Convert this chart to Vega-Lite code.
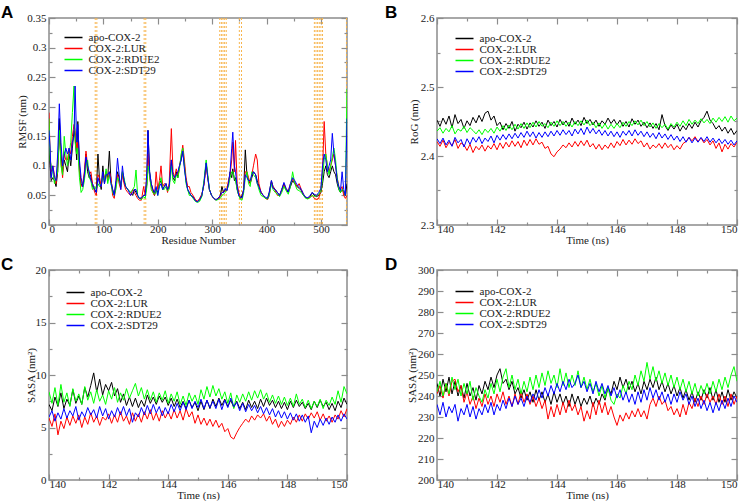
{
"$schema":"https://vega.github.io/schema/vega-lite/v6.json",
"background":"white",
"padding":{"left":0,"top":3,"right":2,"bottom":0},
"datasets":{
"rA":[{"r":85},{"r":88},{"r":175},{"r":178},{"r":314},{"r":317},{"r":320},{"r":323},{"r":326},{"r":350},{"r":354},{"r":488},{"r":491},{"r":494},{"r":497},{"r":500},{"r":503},{"r":547}],
"A":[
{"x":0,"a":0.13,"l":0.19,"r":0.18,"s":0.16},{"x":2,"a":0.10,"l":0.12,"r":0.11,"s":0.13},{"x":4,"a":0.075,"l":0.09,"r":0.10,"s":0.08},{"x":7,"a":0.08,"l":0.10,"r":0.09,"s":0.10},{"x":10,"a":0.075,"l":0.085,"r":0.07,"s":0.08},{"x":13,"a":0.065,"l":0.07,"r":0.08,"s":0.075},{"x":16,"a":0.09,"l":0.10,"r":0.09,"s":0.12},{"x":19,"a":0.18,"l":0.15,"r":0.16,"s":0.205},{"x":22,"a":0.12,"l":0.11,"r":0.10,"s":0.14},{"x":25,"a":0.09,"l":0.08,"r":0.085,"s":0.1},{"x":28,"a":0.11,"l":0.12,"r":0.15,"s":0.12},{"x":31,"a":0.10,"l":0.11,"r":0.12,"s":0.13},{"x":34,"a":0.09,"l":0.11,"r":0.10,"s":0.12},{"x":37,"a":0.12,"l":0.13,"r":0.12,"s":0.13},{"x":40,"a":0.10,"l":0.12,"r":0.14,"s":0.11},{"x":43,"a":0.13,"l":0.15,"r":0.19,"s":0.14},{"x":46,"a":0.16,"l":0.17,"r":0.235,"s":0.15},{"x":48,"a":0.15,"l":0.16,"r":0.14,"s":0.235},{"x":51,"a":0.11,"l":0.13,"r":0.12,"s":0.14},{"x":53,"a":0.175,"l":0.14,"r":0.13,"s":0.17},{"x":56,"a":0.10,"l":0.09,"r":0.08,"s":0.11},{"x":59,"a":0.07,"l":0.065,"r":0.055,"s":0.08},{"x":62,"a":0.065,"l":0.07,"r":0.06,"s":0.065},{"x":65,"a":0.08,"l":0.09,"r":0.075,"s":0.085},{"x":68,"a":0.12,"l":0.125,"r":0.10,"s":0.115},{"x":71,"a":0.09,"l":0.10,"r":0.11,"s":0.10},{"x":74,"a":0.08,"l":0.085,"r":0.08,"s":0.09},{"x":77,"a":0.085,"l":0.09,"r":0.075,"s":0.075},{"x":80,"a":0.065,"l":0.07,"r":0.06,"s":0.07},{"x":84,"a":0.06,"l":0.055,"r":0.065,"s":0.06},{"x":87,"a":0.055,"l":0.05,"r":0.06,"s":0.055},{"x":90,"a":0.12,"l":0.085,"r":0.07,"s":0.08},{"x":93,"a":0.075,"l":0.08,"r":0.065,"s":0.07},{"x":96,"a":0.06,"l":0.065,"r":0.07,"s":0.065},{"x":99,"a":0.10,"l":0.085,"r":0.08,"s":0.09},{"x":102,"a":0.07,"l":0.08,"r":0.075,"s":0.07},{"x":105,"a":0.09,"l":0.09,"r":0.095,"s":0.085},{"x":108,"a":0.08,"l":0.075,"r":0.07,"s":0.085},{"x":111,"a":0.125,"l":0.09,"r":0.085,"s":0.09},{"x":114,"a":0.075,"l":0.08,"r":0.07,"s":0.07},{"x":117,"a":0.06,"l":0.05,"r":0.055,"s":0.06},{"x":120,"a":0.05,"l":0.045,"r":0.05,"s":0.05},{"x":123,"a":0.07,"l":0.065,"r":0.06,"s":0.075},{"x":126,"a":0.09,"l":0.085,"r":0.08,"s":0.113},{"x":129,"a":0.08,"l":0.07,"r":0.075,"s":0.085},{"x":132,"a":0.065,"l":0.06,"r":0.065,"s":0.06},{"x":135,"a":0.09,"l":0.085,"r":0.09,"s":0.10},{"x":138,"a":0.075,"l":0.07,"r":0.08,"s":0.075},{"x":141,"a":0.065,"l":0.06,"r":0.065,"s":0.065},{"x":145,"a":0.06,"l":0.055,"r":0.06,"s":0.06},{"x":150,"a":0.055,"l":0.05,"r":0.055,"s":0.05},{"x":154,"a":0.05,"l":0.06,"r":0.06,"s":0.055},{"x":157,"a":0.06,"l":0.055,"r":0.065,"s":0.06},{"x":160,"a":0.055,"l":0.05,"r":0.093,"s":0.06},{"x":163,"a":0.05,"l":0.045,"r":0.05,"s":0.05},{"x":166,"a":0.045,"l":0.042,"r":0.045,"s":0.045},{"x":170,"a":0.045,"l":0.042,"r":0.043,"s":0.046},{"x":174,"a":0.05,"l":0.065,"r":0.048,"s":0.05},{"x":177,"a":0.05,"l":0.05,"r":0.045,"s":0.05},{"x":180,"a":0.07,"l":0.08,"r":0.065,"s":0.09},{"x":182,"a":0.16,"l":0.12,"r":0.10,"s":0.16},{"x":185,"a":0.09,"l":0.08,"r":0.085,"s":0.09},{"x":188,"a":0.07,"l":0.065,"r":0.06,"s":0.07},{"x":191,"a":0.06,"l":0.055,"r":0.055,"s":0.06},{"x":194,"a":0.05,"l":0.05,"r":0.052,"s":0.055},{"x":197,"a":0.06,"l":0.09,"r":0.06,"s":0.065},{"x":200,"a":0.055,"l":0.06,"r":0.05,"s":0.05},{"x":203,"a":0.07,"l":0.075,"r":0.07,"s":0.065},{"x":206,"a":0.075,"l":0.10,"r":0.08,"s":0.07},{"x":209,"a":0.06,"l":0.065,"r":0.06,"s":0.06},{"x":212,"a":0.065,"l":0.07,"r":0.06,"s":0.065},{"x":215,"a":0.07,"l":0.068,"r":0.065,"s":0.07},{"x":218,"a":0.06,"l":0.055,"r":0.058,"s":0.06},{"x":221,"a":0.065,"l":0.07,"r":0.06,"s":0.065},{"x":225,"a":0.11,"l":0.163,"r":0.10,"s":0.11},{"x":228,"a":0.08,"l":0.09,"r":0.075,"s":0.085},{"x":231,"a":0.075,"l":0.08,"r":0.07,"s":0.08},{"x":234,"a":0.09,"l":0.095,"r":0.085,"s":0.085},{"x":237,"a":0.08,"l":0.085,"r":0.08,"s":0.09},{"x":240,"a":0.1,"l":0.10,"r":0.095,"s":0.1},{"x":243,"a":0.11,"l":0.115,"r":0.12,"s":0.11},{"x":246,"a":0.125,"l":0.135,"r":0.13,"s":0.125},{"x":249,"a":0.10,"l":0.11,"r":0.10,"s":0.095},{"x":252,"a":0.075,"l":0.08,"r":0.07,"s":0.075},{"x":255,"a":0.06,"l":0.065,"r":0.06,"s":0.06},{"x":258,"a":0.055,"l":0.065,"r":0.05,"s":0.055},{"x":261,"a":0.05,"l":0.055,"r":0.05,"s":0.05},{"x":265,"a":0.048,"l":0.05,"r":0.045,"s":0.047},{"x":269,"a":0.042,"l":0.043,"r":0.04,"s":0.041},{"x":273,"a":0.04,"l":0.04,"r":0.038,"s":0.039},{"x":277,"a":0.042,"l":0.045,"r":0.04,"s":0.043},{"x":281,"a":0.05,"l":0.052,"r":0.048,"s":0.05},{"x":285,"a":0.07,"l":0.068,"r":0.075,"s":0.07},{"x":289,"a":0.105,"l":0.1,"r":0.11,"s":0.105},{"x":292,"a":0.08,"l":0.08,"r":0.085,"s":0.08},{"x":295,"a":0.06,"l":0.06,"r":0.06,"s":0.06},{"x":299,"a":0.05,"l":0.05,"r":0.05,"s":0.05},{"x":303,"a":0.045,"l":0.045,"r":0.046,"s":0.045},{"x":307,"a":0.042,"l":0.043,"r":0.042,"s":0.043},{"x":311,"a":0.045,"l":0.044,"r":0.043,"s":0.045},{"x":315,"a":0.05,"l":0.048,"r":0.045,"s":0.05},{"x":318,"a":0.065,"l":0.055,"r":0.05,"s":0.055},{"x":321,"a":0.055,"l":0.055,"r":0.052,"s":0.055},{"x":324,"a":0.06,"l":0.058,"r":0.055,"s":0.062},{"x":327,"a":0.058,"l":0.06,"r":0.06,"s":0.058},{"x":330,"a":0.07,"l":0.075,"r":0.065,"s":0.07},{"x":333,"a":0.09,"l":0.085,"r":0.08,"s":0.09},{"x":336,"a":0.08,"l":0.11,"r":0.09,"s":0.13},{"x":338,"a":0.095,"l":0.14,"r":0.09,"s":0.157},{"x":341,"a":0.075,"l":0.09,"r":0.08,"s":0.1},{"x":343,"a":0.08,"l":0.143,"r":0.075,"s":0.09},{"x":346,"a":0.06,"l":0.07,"r":0.06,"s":0.065},{"x":349,"a":0.05,"l":0.055,"r":0.05,"s":0.05},{"x":352,"a":0.045,"l":0.048,"r":0.043,"s":0.047},{"x":355,"a":0.05,"l":0.045,"r":0.042,"s":0.046},{"x":358,"a":0.06,"l":0.06,"r":0.055,"s":0.06},{"x":361,"a":0.127,"l":0.09,"r":0.08,"s":0.085},{"x":364,"a":0.085,"l":0.09,"r":0.09,"s":0.08},{"x":367,"a":0.075,"l":0.08,"r":0.07,"s":0.075},{"x":370,"a":0.07,"l":0.07,"r":0.065,"s":0.075},{"x":373,"a":0.08,"l":0.085,"r":0.09,"s":0.085},{"x":376,"a":0.09,"l":0.10,"r":0.085,"s":0.09},{"x":380,"a":0.085,"l":0.12,"r":0.08,"s":0.085},{"x":383,"a":0.075,"l":0.11,"r":0.07,"s":0.07},{"x":386,"a":0.065,"l":0.07,"r":0.06,"s":0.065},{"x":390,"a":0.055,"l":0.055,"r":0.05,"s":0.055},{"x":394,"a":0.05,"l":0.05,"r":0.048,"s":0.05},{"x":398,"a":0.045,"l":0.045,"r":0.045,"s":0.047},{"x":402,"a":0.045,"l":0.043,"r":0.044,"s":0.045},{"x":405,"a":0.055,"l":0.05,"r":0.05,"s":0.055},{"x":409,"a":0.075,"l":0.072,"r":0.07,"s":0.075},{"x":412,"a":0.065,"l":0.065,"r":0.06,"s":0.062},{"x":416,"a":0.06,"l":0.058,"r":0.055,"s":0.06},{"x":420,"a":0.055,"l":0.05,"r":0.052,"s":0.055},{"x":424,"a":0.05,"l":0.05,"r":0.048,"s":0.05},{"x":428,"a":0.06,"l":0.058,"r":0.055,"s":0.06},{"x":432,"a":0.07,"l":0.068,"r":0.065,"s":0.072},{"x":436,"a":0.06,"l":0.06,"r":0.058,"s":0.062},{"x":440,"a":0.055,"l":0.058,"r":0.052,"s":0.056},{"x":444,"a":0.065,"l":0.07,"r":0.065,"s":0.07},{"x":448,"a":0.075,"l":0.078,"r":0.09,"s":0.08},{"x":452,"a":0.07,"l":0.072,"r":0.07,"s":0.075},{"x":456,"a":0.065,"l":0.065,"r":0.06,"s":0.068},{"x":460,"a":0.062,"l":0.07,"r":0.058,"s":0.065},{"x":464,"a":0.058,"l":0.06,"r":0.055,"s":0.06},{"x":468,"a":0.05,"l":0.052,"r":0.05,"s":0.052},{"x":472,"a":0.046,"l":0.047,"r":0.045,"s":0.047},{"x":476,"a":0.045,"l":0.045,"r":0.044,"s":0.046},{"x":480,"a":0.048,"l":0.047,"r":0.046,"s":0.05},{"x":484,"a":0.055,"l":0.05,"r":0.05,"s":0.055},{"x":488,"a":0.05,"l":0.045,"r":0.048,"s":0.052},{"x":492,"a":0.048,"l":0.043,"r":0.05,"s":0.05},{"x":496,"a":0.05,"l":0.045,"r":0.052,"s":0.055},{"x":500,"a":0.055,"l":0.06,"r":0.058,"s":0.062},{"x":503,"a":0.07,"l":0.09,"r":0.08,"s":0.1},{"x":506,"a":0.09,"l":0.175,"r":0.11,"s":0.12},{"x":509,"a":0.1,"l":0.12,"r":0.12,"s":0.11},{"x":512,"a":0.085,"l":0.1,"r":0.1,"s":0.09},{"x":515,"a":0.08,"l":0.09,"r":0.085,"s":0.1},{"x":518,"a":0.09,"l":0.1,"r":0.1,"s":0.11},{"x":521,"a":0.1,"l":0.11,"r":0.115,"s":0.155},{"x":524,"a":0.09,"l":0.12,"r":0.13,"s":0.12},{"x":527,"a":0.085,"l":0.1,"r":0.11,"s":0.1},{"x":530,"a":0.07,"l":0.08,"r":0.08,"s":0.075},{"x":533,"a":0.06,"l":0.065,"r":0.06,"s":0.065},{"x":536,"a":0.055,"l":0.06,"r":0.055,"s":0.058},{"x":539,"a":0.06,"l":0.065,"r":0.06,"s":0.09},{"x":542,"a":0.055,"l":0.05,"r":0.058,"s":0.06},{"x":545,"a":0.05,"l":0.045,"r":0.05,"s":0.05},{"x":548,"a":0.07,"l":0.05,"r":0.23,"s":0.18}
],
"B":[
{"t":140.0,"a":2.452,"l":2.421,"r":2.436,"s":2.425},{"t":140.1,"a":2.443,"l":2.414,"r":2.441,"s":2.418},{"t":140.2,"a":2.455,"l":2.423,"r":2.433,"s":2.426},{"t":140.3,"a":2.446,"l":2.412,"r":2.440,"s":2.416},{"t":140.4,"a":2.458,"l":2.420,"r":2.435,"s":2.423},{"t":140.5,"a":2.441,"l":2.415,"r":2.444,"s":2.414},{"t":140.6,"a":2.460,"l":2.424,"r":2.432,"s":2.427},{"t":140.7,"a":2.447,"l":2.411,"r":2.439,"s":2.419},{"t":140.8,"a":2.453,"l":2.419,"r":2.436,"s":2.424},{"t":140.9,"a":2.440,"l":2.416,"r":2.443,"s":2.413},
{"t":141.0,"a":2.451,"l":2.408,"r":2.434,"s":2.425},{"t":141.1,"a":2.444,"l":2.417,"r":2.441,"s":2.417},{"t":141.2,"a":2.456,"l":2.405,"r":2.437,"s":2.427},{"t":141.3,"a":2.448,"l":2.414,"r":2.432,"s":2.420},{"t":141.4,"a":2.459,"l":2.409,"r":2.438,"s":2.428},{"t":141.5,"a":2.450,"l":2.416,"r":2.431,"s":2.418},{"t":141.6,"a":2.462,"l":2.407,"r":2.439,"s":2.426},{"t":141.7,"a":2.465,"l":2.415,"r":2.434,"s":2.421},{"t":141.8,"a":2.452,"l":2.410,"r":2.440,"s":2.429},{"t":141.9,"a":2.458,"l":2.418,"r":2.433,"s":2.419},
{"t":142.0,"a":2.444,"l":2.409,"r":2.442,"s":2.430},{"t":142.1,"a":2.449,"l":2.419,"r":2.436,"s":2.423},{"t":142.2,"a":2.438,"l":2.411,"r":2.444,"s":2.431},{"t":142.3,"a":2.447,"l":2.420,"r":2.437,"s":2.424},{"t":142.4,"a":2.440,"l":2.413,"r":2.445,"s":2.432},{"t":142.5,"a":2.450,"l":2.422,"r":2.438,"s":2.425},{"t":142.6,"a":2.436,"l":2.414,"r":2.446,"s":2.433},{"t":142.7,"a":2.446,"l":2.421,"r":2.439,"s":2.426},{"t":142.8,"a":2.441,"l":2.412,"r":2.447,"s":2.434},{"t":142.9,"a":2.449,"l":2.423,"r":2.440,"s":2.427},
{"t":143.0,"a":2.439,"l":2.415,"r":2.448,"s":2.436},{"t":143.1,"a":2.448,"l":2.424,"r":2.441,"s":2.428},{"t":143.2,"a":2.442,"l":2.416,"r":2.449,"s":2.435},{"t":143.3,"a":2.451,"l":2.425,"r":2.442,"s":2.426},{"t":143.4,"a":2.443,"l":2.417,"r":2.450,"s":2.434},{"t":143.5,"a":2.449,"l":2.420,"r":2.443,"s":2.427},{"t":143.6,"a":2.440,"l":2.411,"r":2.447,"s":2.435},{"t":143.7,"a":2.452,"l":2.414,"r":2.441,"s":2.428},{"t":143.8,"a":2.444,"l":2.403,"r":2.449,"s":2.436},{"t":143.9,"a":2.450,"l":2.399,"r":2.443,"s":2.429},
{"t":144.0,"a":2.442,"l":2.406,"r":2.451,"s":2.437},{"t":144.1,"a":2.453,"l":2.410,"r":2.444,"s":2.430},{"t":144.2,"a":2.445,"l":2.416,"r":2.450,"s":2.438},{"t":144.3,"a":2.451,"l":2.412,"r":2.443,"s":2.431},{"t":144.4,"a":2.443,"l":2.419,"r":2.449,"s":2.437},{"t":144.5,"a":2.455,"l":2.413,"r":2.442,"s":2.429},{"t":144.6,"a":2.446,"l":2.421,"r":2.450,"s":2.439},{"t":144.7,"a":2.452,"l":2.414,"r":2.444,"s":2.432},{"t":144.8,"a":2.444,"l":2.422,"r":2.451,"s":2.440},{"t":144.9,"a":2.456,"l":2.415,"r":2.445,"s":2.431},
{"t":145.0,"a":2.447,"l":2.423,"r":2.452,"s":2.442},{"t":145.1,"a":2.453,"l":2.413,"r":2.444,"s":2.433},{"t":145.2,"a":2.445,"l":2.418,"r":2.449,"s":2.440},{"t":145.3,"a":2.452,"l":2.410,"r":2.441,"s":2.432},{"t":145.4,"a":2.443,"l":2.417,"r":2.448,"s":2.438},{"t":145.5,"a":2.451,"l":2.409,"r":2.440,"s":2.430},{"t":145.6,"a":2.446,"l":2.416,"r":2.447,"s":2.437},{"t":145.7,"a":2.455,"l":2.411,"r":2.439,"s":2.429},{"t":145.8,"a":2.447,"l":2.419,"r":2.446,"s":2.436},{"t":145.9,"a":2.453,"l":2.412,"r":2.440,"s":2.428},
{"t":146.0,"a":2.445,"l":2.421,"r":2.447,"s":2.435},{"t":146.1,"a":2.452,"l":2.415,"r":2.441,"s":2.427},{"t":146.2,"a":2.443,"l":2.424,"r":2.449,"s":2.436},{"t":146.3,"a":2.450,"l":2.416,"r":2.443,"s":2.430},{"t":146.4,"a":2.442,"l":2.423,"r":2.450,"s":2.437},{"t":146.5,"a":2.454,"l":2.417,"r":2.444,"s":2.429},{"t":146.6,"a":2.446,"l":2.425,"r":2.451,"s":2.438},{"t":146.7,"a":2.452,"l":2.418,"r":2.445,"s":2.430},{"t":146.8,"a":2.443,"l":2.422,"r":2.452,"s":2.436},{"t":146.9,"a":2.449,"l":2.413,"r":2.444,"s":2.428},
{"t":147.0,"a":2.441,"l":2.419,"r":2.450,"s":2.435},{"t":147.1,"a":2.448,"l":2.410,"r":2.442,"s":2.427},{"t":147.2,"a":2.440,"l":2.416,"r":2.448,"s":2.433},{"t":147.3,"a":2.447,"l":2.412,"r":2.440,"s":2.425},{"t":147.4,"a":2.438,"l":2.418,"r":2.447,"s":2.434},{"t":147.5,"a":2.460,"l":2.411,"r":2.441,"s":2.426},{"t":147.6,"a":2.444,"l":2.419,"r":2.446,"s":2.432},{"t":147.7,"a":2.437,"l":2.412,"r":2.439,"s":2.424},{"t":147.8,"a":2.445,"l":2.417,"r":2.447,"s":2.431},{"t":147.9,"a":2.439,"l":2.409,"r":2.442,"s":2.423},
{"t":148.0,"a":2.446,"l":2.415,"r":2.449,"s":2.429},{"t":148.1,"a":2.436,"l":2.410,"r":2.443,"s":2.421},{"t":148.2,"a":2.444,"l":2.418,"r":2.451,"s":2.428},{"t":148.3,"a":2.438,"l":2.421,"r":2.444,"s":2.420},{"t":148.4,"a":2.447,"l":2.427,"r":2.453,"s":2.427},{"t":148.5,"a":2.440,"l":2.422,"r":2.446,"s":2.419},{"t":148.6,"a":2.449,"l":2.428,"r":2.452,"s":2.426},{"t":148.7,"a":2.442,"l":2.421,"r":2.447,"s":2.420},{"t":148.8,"a":2.451,"l":2.426,"r":2.454,"s":2.427},{"t":148.9,"a":2.456,"l":2.419,"r":2.448,"s":2.421},
{"t":149.0,"a":2.465,"l":2.424,"r":2.453,"s":2.428},{"t":149.1,"a":2.452,"l":2.416,"r":2.447,"s":2.420},{"t":149.2,"a":2.447,"l":2.422,"r":2.455,"s":2.426},{"t":149.3,"a":2.439,"l":2.411,"r":2.449,"s":2.419},{"t":149.4,"a":2.444,"l":2.419,"r":2.456,"s":2.425},{"t":149.5,"a":2.436,"l":2.406,"r":2.450,"s":2.418},{"t":149.6,"a":2.442,"l":2.417,"r":2.457,"s":2.424},{"t":149.7,"a":2.433,"l":2.410,"r":2.449,"s":2.417},{"t":149.8,"a":2.440,"l":2.418,"r":2.458,"s":2.423},{"t":149.9,"a":2.431,"l":2.413,"r":2.451,"s":2.416},{"t":150.0,"a":2.437,"l":2.420,"r":2.455,"s":2.422}
],
"C":[
{"t":140.0,"a":7.2,"l":5.9,"r":8.4,"s":6.0},{"t":140.1,"a":6.6,"l":5.1,"r":7.3,"s":6.6},{"t":140.2,"a":7.9,"l":6.3,"r":8.8,"s":5.6},{"t":140.3,"a":7.0,"l":4.3,"r":7.1,"s":6.4},{"t":140.4,"a":8.3,"l":5.6,"r":9.1,"s":5.8},{"t":140.5,"a":6.8,"l":4.9,"r":7.4,"s":6.8},{"t":140.6,"a":7.7,"l":6.0,"r":8.3,"s":5.9},{"t":140.7,"a":7.1,"l":5.2,"r":7.0,"s":6.6},{"t":140.8,"a":8.6,"l":6.1,"r":8.7,"s":6.1},{"t":140.9,"a":7.3,"l":5.4,"r":7.5,"s":7.0},
{"t":141.0,"a":8.0,"l":6.2,"r":8.2,"s":5.7},{"t":141.1,"a":7.2,"l":5.0,"r":7.2,"s":6.5},{"t":141.2,"a":8.8,"l":6.0,"r":8.9,"s":6.0},{"t":141.3,"a":7.9,"l":5.3,"r":7.6,"s":6.9},{"t":141.4,"a":9.0,"l":6.4,"r":8.4,"s":6.2},{"t":141.5,"a":10.2,"l":5.5,"r":7.3,"s":6.7},{"t":141.6,"a":8.4,"l":6.1,"r":8.6,"s":5.9},{"t":141.7,"a":9.6,"l":5.2,"r":7.5,"s":7.0},{"t":141.8,"a":8.1,"l":6.0,"r":8.1,"s":6.1},{"t":141.9,"a":9.1,"l":5.7,"r":7.2,"s":6.8},
{"t":142.0,"a":8.5,"l":6.3,"r":8.5,"s":5.8},{"t":142.1,"a":9.3,"l":5.4,"r":7.7,"s":6.6},{"t":142.2,"a":8.0,"l":6.2,"r":8.8,"s":6.0},{"t":142.3,"a":8.7,"l":5.5,"r":7.4,"s":6.9},{"t":142.4,"a":7.4,"l":6.5,"r":8.3,"s":6.2},{"t":142.5,"a":8.2,"l":5.6,"r":7.6,"s":7.0},{"t":142.6,"a":7.1,"l":6.1,"r":8.7,"s":6.1},{"t":142.7,"a":7.9,"l":5.3,"r":7.8,"s":6.8},{"t":142.8,"a":7.0,"l":6.4,"r":8.5,"s":5.5},{"t":142.9,"a":7.8,"l":5.6,"r":9.2,"s":6.4},
{"t":143.0,"a":6.9,"l":6.3,"r":8.0,"s":6.0},{"t":143.1,"a":7.6,"l":5.5,"r":8.8,"s":6.9},{"t":143.2,"a":7.0,"l":6.5,"r":7.7,"s":6.2},{"t":143.3,"a":8.1,"l":5.8,"r":8.6,"s":7.1},{"t":143.4,"a":7.3,"l":6.7,"r":7.6,"s":6.3},{"t":143.5,"a":7.9,"l":5.7,"r":8.4,"s":7.2},{"t":143.6,"a":7.2,"l":6.4,"r":7.4,"s":6.4},{"t":143.7,"a":8.0,"l":5.6,"r":8.3,"s":7.0},{"t":143.8,"a":7.4,"l":6.6,"r":7.6,"s":6.1},{"t":143.9,"a":7.9,"l":5.9,"r":8.5,"s":6.9},
{"t":144.0,"a":7.1,"l":6.5,"r":7.3,"s":6.3},{"t":144.1,"a":7.8,"l":5.8,"r":8.2,"s":7.2},{"t":144.2,"a":7.0,"l":6.7,"r":7.5,"s":6.5},{"t":144.3,"a":7.7,"l":5.9,"r":8.4,"s":7.3},{"t":144.4,"a":6.9,"l":6.6,"r":7.2,"s":6.6},{"t":144.5,"a":7.5,"l":5.7,"r":8.0,"s":7.4},{"t":144.6,"a":6.8,"l":6.8,"r":7.1,"s":6.7},{"t":144.7,"a":7.6,"l":6.0,"r":8.3,"s":7.6},{"t":144.8,"a":6.9,"l":6.5,"r":7.5,"s":6.8},{"t":144.9,"a":7.4,"l":5.4,"r":8.1,"s":7.5},
{"t":145.0,"a":6.6,"l":6.2,"r":7.2,"s":6.9},{"t":145.1,"a":7.5,"l":5.3,"r":8.6,"s":7.7},{"t":145.2,"a":6.7,"l":5.9,"r":7.7,"s":6.8},{"t":145.3,"a":7.6,"l":5.2,"r":8.9,"s":7.6},{"t":145.4,"a":6.8,"l":5.8,"r":7.9,"s":6.9},{"t":145.5,"a":7.7,"l":5.1,"r":9.0,"s":7.5},{"t":145.6,"a":7.0,"l":5.7,"r":8.0,"s":6.8},{"t":145.7,"a":7.8,"l":5.0,"r":8.7,"s":7.7},{"t":145.8,"a":7.1,"l":5.4,"r":7.7,"s":6.7},{"t":145.9,"a":7.7,"l":4.6,"r":8.4,"s":7.6},
{"t":146.0,"a":7.0,"l":4.9,"r":7.3,"s":6.9},{"t":146.1,"a":7.6,"l":4.1,"r":8.3,"s":7.8},{"t":146.2,"a":6.9,"l":3.9,"r":6.8,"s":7.0},{"t":146.3,"a":7.5,"l":4.5,"r":8.1,"s":7.4},{"t":146.4,"a":6.8,"l":5.0,"r":7.4,"s":6.6},{"t":146.5,"a":7.4,"l":5.4,"r":8.2,"s":7.3},{"t":146.6,"a":6.7,"l":5.8,"r":7.5,"s":6.5},{"t":146.7,"a":7.6,"l":5.5,"r":8.4,"s":7.2},{"t":146.8,"a":6.9,"l":6.1,"r":7.6,"s":6.6},{"t":146.9,"a":7.5,"l":5.7,"r":8.5,"s":7.1},
{"t":147.0,"a":6.8,"l":6.2,"r":7.8,"s":6.4},{"t":147.1,"a":7.7,"l":5.9,"r":8.6,"s":7.0},{"t":147.2,"a":7.0,"l":6.3,"r":7.7,"s":6.3},{"t":147.3,"a":7.8,"l":5.6,"r":8.3,"s":6.9},{"t":147.4,"a":7.1,"l":6.1,"r":7.4,"s":6.2},{"t":147.5,"a":7.6,"l":5.3,"r":8.1,"s":6.8},{"t":147.6,"a":6.9,"l":5.8,"r":7.3,"s":6.0},{"t":147.7,"a":7.5,"l":5.0,"r":8.0,"s":6.6},{"t":147.8,"a":6.8,"l":5.6,"r":7.2,"s":5.9},{"t":147.9,"a":7.4,"l":5.1,"r":7.9,"s":6.5},
{"t":148.0,"a":6.7,"l":5.7,"r":7.1,"s":5.8},{"t":148.1,"a":7.5,"l":5.3,"r":7.8,"s":6.4},{"t":148.2,"a":6.9,"l":6.0,"r":7.0,"s":5.7},{"t":148.3,"a":7.6,"l":5.5,"r":8.2,"s":6.3},{"t":148.4,"a":7.0,"l":6.2,"r":7.2,"s":5.6},{"t":148.5,"a":7.4,"l":5.6,"r":7.7,"s":6.2},{"t":148.6,"a":6.8,"l":6.3,"r":6.9,"s":5.5},{"t":148.7,"a":7.3,"l":5.8,"r":7.6,"s":6.1},{"t":148.8,"a":6.7,"l":6.4,"r":6.8,"s":4.5},{"t":148.9,"a":7.5,"l":5.9,"r":7.5,"s":5.6},
{"t":149.0,"a":6.9,"l":6.5,"r":7.0,"s":5.0},{"t":149.1,"a":7.6,"l":5.7,"r":7.7,"s":5.8},{"t":149.2,"a":7.0,"l":6.3,"r":6.8,"s":5.2},{"t":149.3,"a":7.4,"l":5.6,"r":7.6,"s":5.9},{"t":149.4,"a":6.7,"l":6.1,"r":7.1,"s":5.3},{"t":149.5,"a":7.3,"l":5.5,"r":7.9,"s":6.0},{"t":149.6,"a":6.6,"l":6.2,"r":7.2,"s":5.5},{"t":149.7,"a":7.5,"l":5.8,"r":8.5,"s":6.2},{"t":149.8,"a":6.9,"l":6.6,"r":7.4,"s":5.6},{"t":149.9,"a":7.8,"l":6.0,"r":8.9,"s":6.3},{"t":150.0,"a":7.2,"l":6.8,"r":8.2,"s":5.8}
],
"D":[
{"t":140.0,"a":246,"l":241,"r":242,"s":236},{"t":140.1,"a":240,"l":245,"r":247,"s":231},{"t":140.2,"a":248,"l":239,"r":240,"s":237},{"t":140.3,"a":242,"l":246,"r":246,"s":230},{"t":140.4,"a":249,"l":240,"r":241,"s":235},{"t":140.5,"a":241,"l":247,"r":249,"s":232},{"t":140.6,"a":247,"l":248,"r":243,"s":236},{"t":140.7,"a":240,"l":242,"r":248,"s":228},{"t":140.8,"a":245,"l":245,"r":240,"s":234},{"t":140.9,"a":239,"l":237,"r":246,"s":231},
{"t":141.0,"a":246,"l":242,"r":241,"s":236},{"t":141.1,"a":240,"l":236,"r":247,"s":230},{"t":141.2,"a":244,"l":240,"r":238,"s":235},{"t":141.3,"a":238,"l":234,"r":244,"s":229},{"t":141.4,"a":245,"l":239,"r":240,"s":234},{"t":141.5,"a":241,"l":235,"r":237,"s":231},{"t":141.6,"a":247,"l":241,"r":243,"s":236},{"t":141.7,"a":243,"l":236,"r":239,"s":232},{"t":141.8,"a":249,"l":240,"r":246,"s":237},{"t":141.9,"a":244,"l":235,"r":241,"s":231},
{"t":142.0,"a":250,"l":241,"r":248,"s":236},{"t":142.1,"a":253,"l":237,"r":242,"s":233},{"t":142.2,"a":246,"l":242,"r":249,"s":238},{"t":142.3,"a":248,"l":236,"r":253,"s":234},{"t":142.4,"a":243,"l":240,"r":244,"s":239},{"t":142.5,"a":247,"l":235,"r":250,"s":235},{"t":142.6,"a":241,"l":241,"r":243,"s":240},{"t":142.7,"a":244,"l":236,"r":248,"s":236},{"t":142.8,"a":239,"l":242,"r":241,"s":239},{"t":142.9,"a":243,"l":237,"r":247,"s":235},
{"t":143.0,"a":238,"l":241,"r":242,"s":240},{"t":143.1,"a":242,"l":236,"r":249,"s":237},{"t":143.2,"a":237,"l":240,"r":243,"s":241},{"t":143.3,"a":243,"l":235,"r":250,"s":238},{"t":143.4,"a":238,"l":239,"r":244,"s":243},{"t":143.5,"a":242,"l":234,"r":251,"s":239},{"t":143.6,"a":237,"l":238,"r":245,"s":244},{"t":143.7,"a":241,"l":229,"r":252,"s":240},{"t":143.8,"a":236,"l":235,"r":246,"s":245},{"t":143.9,"a":242,"l":230,"r":250,"s":241},
{"t":144.0,"a":237,"l":236,"r":244,"s":246},{"t":144.1,"a":241,"l":231,"r":253,"s":242},{"t":144.2,"a":236,"l":237,"r":245,"s":247},{"t":144.3,"a":240,"l":232,"r":251,"s":243},{"t":144.4,"a":235,"l":238,"r":244,"s":248},{"t":144.5,"a":241,"l":233,"r":250,"s":244},{"t":144.6,"a":236,"l":236,"r":245,"s":246},{"t":144.7,"a":240,"l":231,"r":252,"s":250},{"t":144.8,"a":235,"l":235,"r":244,"s":244},{"t":144.9,"a":239,"l":228,"r":249,"s":247},
{"t":145.0,"a":236,"l":233,"r":243,"s":242},{"t":145.1,"a":240,"l":229,"r":248,"s":246},{"t":145.2,"a":235,"l":237,"r":242,"s":241},{"t":145.3,"a":239,"l":231,"r":246,"s":247},{"t":145.4,"a":236,"l":238,"r":240,"s":242},{"t":145.5,"a":241,"l":232,"r":245,"s":246},{"t":145.6,"a":238,"l":237,"r":239,"s":241},{"t":145.7,"a":244,"l":231,"r":244,"s":245},{"t":145.8,"a":241,"l":235,"r":238,"s":240},{"t":145.9,"a":247,"l":230,"r":236,"s":244},
{"t":146.0,"a":243,"l":226,"r":241,"s":239},{"t":146.1,"a":249,"l":231,"r":239,"s":243},{"t":146.2,"a":244,"l":228,"r":245,"s":238},{"t":146.3,"a":248,"l":232,"r":241,"s":242},{"t":146.4,"a":243,"l":229,"r":247,"s":237},{"t":146.5,"a":247,"l":233,"r":243,"s":241},{"t":146.6,"a":242,"l":230,"r":250,"s":236},{"t":146.7,"a":246,"l":234,"r":245,"s":242},{"t":146.8,"a":241,"l":230,"r":252,"s":237},{"t":146.9,"a":247,"l":233,"r":247,"s":243},
{"t":147.0,"a":243,"l":229,"r":256,"s":238},{"t":147.1,"a":248,"l":236,"r":248,"s":244},{"t":147.2,"a":244,"l":239,"r":254,"s":239},{"t":147.3,"a":249,"l":235,"r":247,"s":243},{"t":147.4,"a":243,"l":240,"r":252,"s":238},{"t":147.5,"a":247,"l":236,"r":246,"s":242},{"t":147.6,"a":242,"l":238,"r":251,"s":237},{"t":147.7,"a":246,"l":233,"r":245,"s":241},{"t":147.8,"a":241,"l":235,"r":250,"s":236},{"t":147.9,"a":245,"l":231,"r":244,"s":241},
{"t":148.0,"a":240,"l":234,"r":249,"s":237},{"t":148.1,"a":244,"l":230,"r":243,"s":242},{"t":148.2,"a":239,"l":236,"r":248,"s":238},{"t":148.3,"a":243,"l":231,"r":242,"s":241},{"t":148.4,"a":238,"l":237,"r":247,"s":236},{"t":148.5,"a":242,"l":234,"r":241,"s":240},{"t":148.6,"a":237,"l":239,"r":246,"s":235},{"t":148.7,"a":242,"l":235,"r":240,"s":239},{"t":148.8,"a":238,"l":240,"r":245,"s":234},{"t":148.9,"a":243,"l":236,"r":241,"s":238},
{"t":149.0,"a":239,"l":241,"r":246,"s":233},{"t":149.1,"a":244,"l":237,"r":241,"s":237},{"t":149.2,"a":238,"l":240,"r":247,"s":232},{"t":149.3,"a":243,"l":236,"r":242,"s":237},{"t":149.4,"a":237,"l":241,"r":248,"s":233},{"t":149.5,"a":242,"l":236,"r":243,"s":238},{"t":149.6,"a":237,"l":240,"r":249,"s":234},{"t":149.7,"a":243,"l":235,"r":244,"s":239},{"t":149.8,"a":238,"l":241,"r":250,"s":235},{"t":149.9,"a":242,"l":236,"r":254,"s":240},{"t":150.0,"a":239,"l":240,"r":247,"s":237}
]
},
"concat":[
{"width":298,"height":207,
 "title":{"text":"A","anchor":"start","frame":"group","dx":-48,"offset":-10},
 "layer":[
  {"data":{"name":"rA"},"mark":{"type":"rule","color":"#f7b54e","strokeDash":[2,2],"strokeWidth":1},"encoding":{"x":{"field":"r","type":"quantitative","scale":{"domain":[0,548],"nice":false,"zero":false},"axis":null}}},
  {"data":{"name":"A"},"transform":[{"fold":["a","l","r","s"],"as":["k","v"]}],"mark":{"type":"line","strokeWidth":1,"clip":true},
   "encoding":{
    "x":{"field":"x","type":"quantitative","scale":{"domain":[0,548],"nice":false,"zero":false},"axis":{"orient":"bottom","title":"Residue Number","values":[0,50,100,150,200,250,300,350,400,450,500],"format":"d","labelExpr":"datum.value%100==0?datum.label:''","labelFont":"Liberation Serif","tickSize":{"condition":{"test":"datum.value%100!=0","value":-3},"value":-6},"labelPadding":4,"titlePadding":0}},
    "y":{"field":"v","type":"quantitative","scale":{"domain":[0,0.35],"nice":false,"zero":false},"axis":{"orient":"left","title":"RMSF (nm)","values":[0,0.025,0.05,0.075,0.1,0.125,0.15,0.175,0.2,0.225,0.25,0.275,0.3,0.325,0.35],"format":".3~f","labelExpr":"round(datum.value*40)%2==0?datum.label:''","labelFont":"Liberation Serif","tickSize":{"condition":{"test":"round(datum.value*40)%2==1","value":-3},"value":-6},"labelPadding":9,"titlePadding":-1}},
    "color":{"field":"k","type":"nominal","scale":{"domain":["a","l","r","s"],"range":["#000000","#ff0000","#00ff00","#0000ff"]},"legend":{"orient":"none","legendX":19,"legendY":14,"labelExpr":"{'a':'apo-COX-2','l':'COX-2:LUR','r':'COX-2:RDUE2','s':'COX-2:SDT29'}[datum.label]","labelFont":"Liberation Serif"}}}},
  {"data":{"name":"A"},"mark":{"type":"point","opacity":0},
   "encoding":{
    "x":{"field":"x","type":"quantitative","scale":{"domain":[0,548],"nice":false,"zero":false},"axis":{"orient":"top","labels":false,"title":null,"values":[0,50,100,150,200,250,300,350,400,450,500],"tickSize":{"condition":{"test":"datum.value%100!=0","value":-3},"value":-6}}},
    "y":{"field":"a","type":"quantitative","scale":{"domain":[0,0.35],"nice":false,"zero":false},"axis":{"orient":"right","labels":false,"title":null,"values":[0,0.025,0.05,0.075,0.1,0.125,0.15,0.175,0.2,0.225,0.25,0.275,0.3,0.325,0.35],"tickSize":{"condition":{"test":"round(datum.value*40)%2==1","value":-3},"value":-6}}}}}
 ],
 "resolve":{"axis":{"x":"independent","y":"independent"}}
},
{"width":300,"height":207,
 "title":{"text":"B","anchor":"start","frame":"group","dx":-52,"offset":-10},
 "layer":[
  {"data":{"name":"B"},"transform":[{"fold":["a","l","r","s"],"as":["k","v"]}],"mark":{"type":"line","strokeWidth":1,"clip":true},
   "encoding":{
    "x":{"field":"t","type":"quantitative","scale":{"domain":[140,150],"nice":false,"zero":false},"axis":{"orient":"bottom","title":"Time (ns)","values":[140,141,142,143,144,145,146,147,148,149,150],"format":"d","labelExpr":"datum.value%2==0?datum.label:''","labelFont":"Liberation Serif","tickSize":{"condition":{"test":"datum.value%2!=0","value":-3},"value":-6},"labelPadding":4,"titlePadding":0}},
    "y":{"field":"v","type":"quantitative","scale":{"domain":[2.3,2.6],"nice":false,"zero":false},"axis":{"orient":"left","title":"RoG (nm)","values":[2.3,2.35,2.4,2.45,2.5,2.55,2.6],"format":".2~f","labelExpr":"round(datum.value*20)%2==0?datum.label:''","labelFont":"Liberation Serif","tickSize":{"condition":{"test":"round(datum.value*20)%2==1","value":-3},"value":-6},"labelPadding":9,"titlePadding":1}},
    "color":{"field":"k","type":"nominal","scale":{"domain":["a","l","r","s"],"range":["#000000","#ff0000","#00ff00","#0000ff"]},"legend":{"orient":"none","legendX":22,"legendY":15,"labelExpr":"{'a':'apo-COX-2','l':'COX-2:LUR','r':'COX-2:RDUE2','s':'COX-2:SDT29'}[datum.label]","labelFont":"Liberation Serif"}}}},
  {"data":{"name":"B"},"mark":{"type":"point","opacity":0},
   "encoding":{
    "x":{"field":"t","type":"quantitative","scale":{"domain":[140,150],"nice":false,"zero":false},"axis":{"orient":"top","labels":false,"title":null,"values":[140,141,142,143,144,145,146,147,148,149,150],"tickSize":{"condition":{"test":"datum.value%2!=0","value":-3},"value":-6}}},
    "y":{"field":"a","type":"quantitative","scale":{"domain":[2.3,2.6],"nice":false,"zero":false},"axis":{"orient":"right","labels":false,"title":null,"values":[2.3,2.35,2.4,2.45,2.5,2.55,2.6],"tickSize":{"condition":{"test":"round(datum.value*20)%2==1","value":-3},"value":-6}}}}}
 ],
 "resolve":{"axis":{"x":"independent","y":"independent"}}
},
{"width":298,"height":210,
 "title":{"text":"C","anchor":"start","frame":"group","dx":-48,"offset":-10},
 "layer":[
  {"data":{"name":"C"},"transform":[{"fold":["a","l","r","s"],"as":["k","v"]}],"mark":{"type":"line","strokeWidth":1,"clip":true},
   "encoding":{
    "x":{"field":"t","type":"quantitative","scale":{"domain":[140,150],"nice":false,"zero":false},"axis":{"orient":"bottom","title":"Time (ns)","values":[140,141,142,143,144,145,146,147,148,149,150],"format":"d","labelExpr":"datum.value%2==0?datum.label:''","labelFont":"Liberation Serif","tickSize":{"condition":{"test":"datum.value%2!=0","value":-3},"value":-6},"labelPadding":4,"titlePadding":0}},
    "y":{"field":"v","type":"quantitative","scale":{"domain":[0,20],"nice":false,"zero":false},"axis":{"orient":"left","title":"SASA (nm²)","values":[0,2.5,5,7.5,10,12.5,15,17.5,20],"format":"d","labelExpr":"datum.value%5==0?datum.label:''","labelFont":"Liberation Serif","tickSize":{"condition":{"test":"datum.value%5!=0","value":-3},"value":-6},"labelPadding":9,"titlePadding":-1}},
    "color":{"field":"k","type":"nominal","scale":{"domain":["a","l","r","s"],"range":["#000000","#ff0000","#00ff00","#0000ff"]},"legend":{"orient":"none","legendX":21,"legendY":17,"labelExpr":"{'a':'apo-COX-2','l':'COX-2:LUR','r':'COX-2:RDUE2','s':'COX-2:SDT29'}[datum.label]","labelFont":"Liberation Serif"}}}},
  {"data":{"name":"C"},"mark":{"type":"point","opacity":0},
   "encoding":{
    "x":{"field":"t","type":"quantitative","scale":{"domain":[140,150],"nice":false,"zero":false},"axis":{"orient":"top","labels":false,"title":null,"values":[140,141,142,143,144,145,146,147,148,149,150],"tickSize":{"condition":{"test":"datum.value%2!=0","value":-3},"value":-6}}},
    "y":{"field":"a","type":"quantitative","scale":{"domain":[0,20],"nice":false,"zero":false},"axis":{"orient":"right","labels":false,"title":null,"values":[0,2.5,5,7.5,10,12.5,15,17.5,20],"tickSize":{"condition":{"test":"datum.value%5!=0","value":-3},"value":-6}}}}}
 ],
 "resolve":{"axis":{"x":"independent","y":"independent"}}
},
{"width":300,"height":210,
 "title":{"text":"D","anchor":"start","frame":"group","dx":-52,"offset":-10},
 "layer":[
  {"data":{"name":"D"},"transform":[{"fold":["a","l","r","s"],"as":["k","v"]}],"mark":{"type":"line","strokeWidth":1,"clip":true},
   "encoding":{
    "x":{"field":"t","type":"quantitative","scale":{"domain":[140,150],"nice":false,"zero":false},"axis":{"orient":"bottom","title":"Time (ns)","values":[140,141,142,143,144,145,146,147,148,149,150],"format":"d","labelExpr":"datum.value%2==0?datum.label:''","labelFont":"Liberation Serif","tickSize":{"condition":{"test":"datum.value%2!=0","value":-3},"value":-6},"labelPadding":4,"titlePadding":0}},
    "y":{"field":"v","type":"quantitative","scale":{"domain":[200,300],"nice":false,"zero":false},"axis":{"orient":"left","title":"SASA (nm²)","values":[200,210,220,230,240,250,260,270,280,290,300],"format":"d","labelFont":"Liberation Serif","tickSize":-6,"labelPadding":9,"titlePadding":0}},
    "color":{"field":"k","type":"nominal","scale":{"domain":["a","l","r","s"],"range":["#000000","#ff0000","#00ff00","#0000ff"]},"legend":{"orient":"none","legendX":22,"legendY":16,"labelExpr":"{'a':'apo-COX-2','l':'COX-2:LUR','r':'COX-2:RDUE2','s':'COX-2:SDT29'}[datum.label]","labelFont":"Liberation Serif"}}}},
  {"data":{"name":"D"},"mark":{"type":"point","opacity":0},
   "encoding":{
    "x":{"field":"t","type":"quantitative","scale":{"domain":[140,150],"nice":false,"zero":false},"axis":{"orient":"top","labels":false,"title":null,"values":[140,141,142,143,144,145,146,147,148,149,150],"tickSize":{"condition":{"test":"datum.value%2!=0","value":-3},"value":-6}}},
    "y":{"field":"a","type":"quantitative","scale":{"domain":[200,300],"nice":false,"zero":false},"axis":{"orient":"right","labels":false,"title":null,"values":[200,210,220,230,240,250,260,270,280,290,300],"tickSize":-6}}}}
 ],
 "resolve":{"axis":{"x":"independent","y":"independent"}}
}
],
"columns":2,
"spacing":{"row":45,"column":90},
"bounds":"flush",
"resolve":{"legend":{"color":"independent"}},
"config":{
 "view":{"stroke":"#8c8c8c","strokeWidth":1.5},
 "title":{"font":"Liberation Sans","fontSize":17,"fontWeight":"bold","color":"#000000"},
 "axis":{"labelFont":"Liberation Serif","titleFont":"Liberation Serif","labelFontSize":11,"titleFontSize":11,"titleFontWeight":"normal","labelColor":"#222222","titleColor":"#222222","grid":false,"domain":false,"tickColor":"#8c8c8c","tickWidth":1.2},
 "legend":{"title":null,"symbolType":"M-2,0H2","symbolSize":81,"symbolStrokeWidth":1.5,"labelFont":"Liberation Serif","labelFontSize":11,"labelColor":"#222222","padding":0,"rowPadding":-2,"labelOffset":9.5}
}
}
